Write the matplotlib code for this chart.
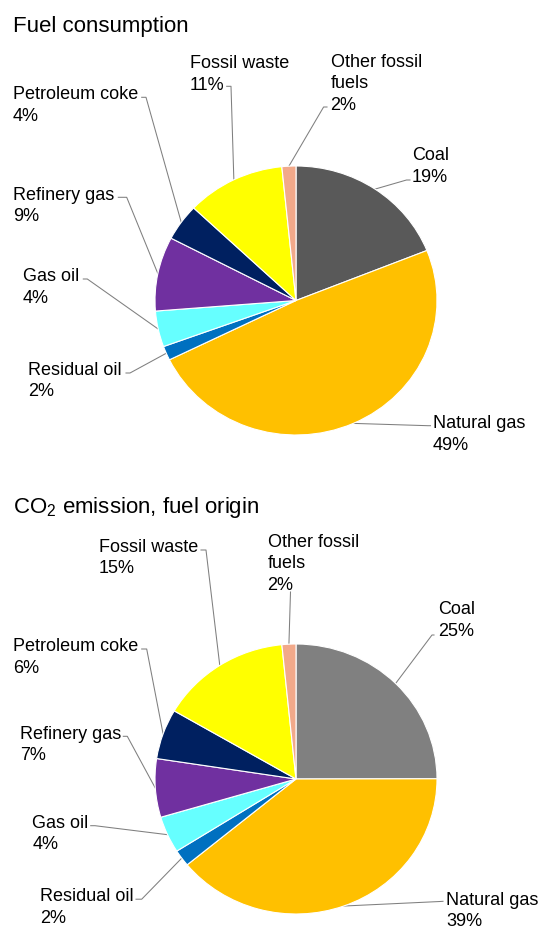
import matplotlib
matplotlib.use('Agg')
import matplotlib.pyplot as plt
import numpy as np

plt.rcParams['font.family'] = ['Liberation Sans', 'DejaVu Sans']
plt.rcParams['mathtext.fontset'] = 'custom'
plt.rcParams['mathtext.rm'] = 'Liberation Sans'
plt.rcParams['mathtext.default'] = 'rm'

W, H = 540, 929

# data (clockwise from 12 o'clock)
fuels = ['Coal', 'Natural gas', 'Residual oil', 'Gas oil', 'Refinery gas',
         'Petroleum coke', 'Fossil waste', 'Other fossil\nfuels']
consumption = [18.9, 48.7, 1.7, 4.3, 8.9, 4.4, 11.3, 1.6]
emission = [25.0, 39.1, 2.0, 4.4, 7.0, 6.0, 15.0, 1.6]

colors_top = ['#595959', '#FFC000', '#0070C0', '#66FFFF', '#7030A0',
              '#002060', '#FFFF00', '#F2A98A']
colors_bot = ['#808080', '#FFC000', '#0070C0', '#66FFFF', '#7030A0',
              '#002060', '#FFFF00', '#F2A98A']

# label layout in pixels: text x, first baseline, anchor x/y, elbow x/y
layout_top = [(412, 160, 410, 181, 406.5, 181),
              (433, 428, 430.5, 426.7, 428, 426.7),
              (28, 374.7, 126, 374, 130, 374),
              (23, 281.3, 83.3, 280, 87.3, 280),
              (12.7, 199.7, 118.3, 198.3, 126.7, 198.3),
              (12.7, 99, 141.7, 98.3, 146, 98.3),
              (190, 68, 226.7, 87.3, 231, 87.3),
              (330.6, 66.6, 327, 108, 323.6, 108)]
layout_bot = [(438, 614, 434, 636, 432, 636),
              (446, 904.7, 443, 902.3, 440, 902.5),
              (40, 901.5, 136, 900.2, 141.7, 900.2),
              (32.3, 828, 90.7, 826.7, 95, 826.7),
              (20, 739, 123.3, 737.3, 127.3, 737.3),
              (12.7, 651.3, 141.7, 650, 146.7, 650),
              (98.6, 551.8, 201, 551, 206, 551),
              (267.6, 546.7, 290.5, 593, 290.5, 593)]

PITCH = 21.5

fig = plt.figure(figsize=(W / 100, H / 100), dpi=100)
over = fig.add_axes([0, 0, 1, 1])
over.set_xlim(0, W)
over.set_ylim(H, 0)
over.axis('off')


def draw_pie(cx, cy, rx, ry, values, colors, layout):
    ax = fig.add_axes([(cx - rx) / W, 1 - (cy + ry) / H, 2 * rx / W, 2 * ry / H])
    wedges, _ = ax.pie(values, colors=colors, startangle=90, counterclock=False,
                       radius=1, wedgeprops=dict(edgecolor='white', linewidth=0.8))
    ax.set_aspect('auto')
    ax.set_xlim(-1, 1)
    ax.set_ylim(-1, 1)
    total = sum(values)
    for w, name, v, lay in zip(wedges, fuels, values, layout):
        tx, ty, anx, any_, ex, ey = lay
        ang = np.deg2rad((w.theta1 + w.theta2) / 2)
        p = ax.transData.transform((np.cos(ang), np.sin(ang)))
        px, py = over.transData.inverted().transform(p)
        over.plot([px, ex, anx], [py, ey, any_], color='#7f7f7f', lw=0.75)
        lines = name.split('\n') + ['{:.0f}%'.format(round(100 * v / total))]
        for i, s in enumerate(lines):
            over.text(tx, ty + i * PITCH, s, fontsize=13, va='baseline',
                      ha='left', color='black')


draw_pie(296, 301.5, 141, 134.5, consumption, colors_top, layout_top)
draw_pie(296, 780, 141, 135, emission, colors_bot, layout_bot)

over.text(12.7, 32.3, 'Fuel consumption', fontsize=16, va='baseline')
over.text(13, 513.5, 'CO$_2$ emission, fuel origin', fontsize=16, va='baseline')

fig.savefig('out.png', dpi=100)
